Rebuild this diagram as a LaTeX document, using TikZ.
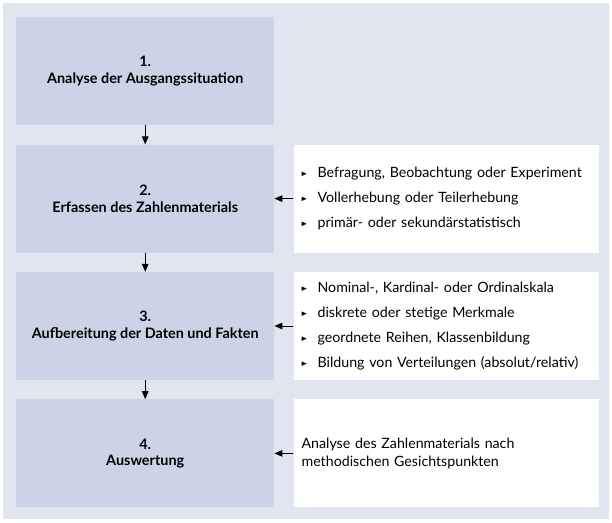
\documentclass[tikz,border=0pt]{standalone}
\usepackage{fontspec}
\setmainfont{Lato}
\usetikzlibrary{positioning, arrows.meta}

\definecolor{outerbg}{HTML}{E1E5F0}
\definecolor{stagefill}{HTML}{CDD3E6}
\newcommand{\pointer}{\tikz[baseline=0pt]\fill (0,1.6pt) -- (0,6pt) -- (5pt,3.8pt) -- cycle;\hspace{11pt}}

\begin{document}
\begin{tikzpicture}[x=1pt, y=-1pt, node distance=19pt,
    stage/.style={rectangle, fill=stagefill, minimum width=258pt, minimum height=108pt, inner sep=0pt, align=center, font=\fontsize{14.4}{16.5}\selectfont\bfseries},
    info/.style={rectangle, fill=white, minimum height=108pt, text width=289pt, inner xsep=8pt, inner ysep=0pt, align=left, font=\fontsize{14.2}{18.5}\selectfont},
    flow/.style={draw=black, line width=1pt, -{Triangle[length=8pt, width=6.5pt]}}]
    \useasboundingbox (0,0) rectangle (612,522);
    \fill[outerbg] (3,3) rectangle (609,519);

    % Define blocks
    \node [stage, anchor=north west] (analyse) at (16,17) {1.\\Analyse der Ausgangssituation};
    \node [stage, below=of analyse] (erfassen) {2.\\Erfassen des Zahlenmaterials};
    \node [stage, below=of erfassen] (aufbereitung) {3.\\Aufbereitung der Daten und Fakten};
    \node [stage, below=of aufbereitung] (auswertung) {4.\\Auswertung};

    \node [info, right=of erfassen] (erfassenInfo) {\pointer Befragung, Beobachtung oder Experiment\\[6.5pt]
        \pointer Vollerhebung oder Teilerhebung\\[6.5pt]
        \pointer primär- oder sekundärstatistisch};
    \node [info, right=of aufbereitung] (aufbereitungInfo) {\pointer Nominal-, Kardinal- oder Ordinalskala\\[6.5pt]
        \pointer diskrete oder stetige Merkmale\\[6.5pt]
        \pointer geordnete Reihen, Klassenbildung\\[6.5pt]
        \pointer Bildung von Verteilungen (absolut/relativ)};
    \node [info, right=of auswertung] (auswertungInfo) {Analyse des Zahlenmaterials nach\\methodischen Gesichtspunkten};

    % Define arrows
    \draw [flow] (analyse) -- (erfassen);
    \draw [flow] (erfassen) -- (aufbereitung);
    \draw [flow] (aufbereitung) -- (auswertung);
    \draw [flow] (erfassenInfo) -- (erfassen);
    \draw [flow] (aufbereitungInfo) -- (aufbereitung);
    \draw [flow] (auswertungInfo) -- (auswertung);
\end{tikzpicture}
\end{document}
